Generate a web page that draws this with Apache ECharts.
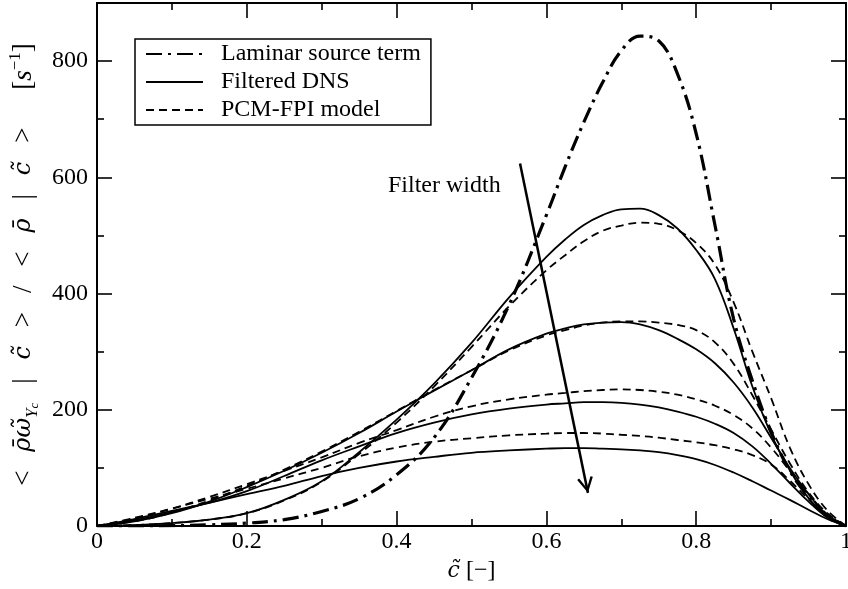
<!DOCTYPE html>
<html>
<head>
<meta charset="utf-8">
<script src="https://cdn.jsdelivr.net/npm/echarts@6/dist/echarts.min.js"></script>
<style>
  html, body { margin: 0; padding: 0; background: #fff; }
  #chart { width: 848px; height: 589px; }
</style>
</head>
<body>
<div id="chart"></div>
<script>
// progress variable sampling points
const cTilde = [0, 0.05, 0.1, 0.15, 0.2, 0.25, 0.3, 0.35, 0.4, 0.45, 0.5, 0.55, 0.6,
  0.625, 0.65, 0.675, 0.7, 0.725, 0.75, 0.775, 0.8,
  0.825, 0.85, 0.875, 0.9, 0.925, 0.95, 0.975, 1];

// laminar flamelet source term
const laminar = [0, 0, 0.5, 2, 5, 11, 25, 47, 88, 152, 255, 380, 535,
  618, 695, 763, 818, 843, 835, 778, 675,
  518, 356, 250, 162, 95, 50, 16, 0];

// filtered DNS, increasing filter width
const dns1 = [0, 1.5, 5, 11, 22, 45, 77, 127, 183, 245, 315, 393, 463,
  493, 518, 535, 545, 546, 535, 512, 475,
  425, 340, 240, 158, 96, 48, 15, 0];
const dns2 = [0, 8, 22, 42, 67, 95, 126, 160, 197, 233, 268, 304, 331,
  340, 347, 350, 351, 347, 337, 322, 304,
  280, 247, 204, 152, 100, 55, 18, 0];
const dns3 = [0, 10, 24, 40, 60, 86, 113, 137, 160, 178, 192, 202, 209,
  211, 213, 213, 212, 209, 204, 197, 188,
  176, 160, 137, 107, 74, 42, 15, 0];
const dns4 = [0, 12, 26, 40, 55, 69, 86, 100, 111, 119, 126, 130, 133,
  134, 134, 133, 132, 130, 127, 122, 115,
  105, 92, 77, 61, 45, 28, 12, 0];

// PCM-FPI model, same filter widths
const pcm1 = [0, 1.5, 5, 11, 22, 44, 76, 124, 178, 240, 308, 378, 440,
  466, 490, 508, 517, 522, 520, 509, 487,
  450, 385, 300, 220, 135, 72, 27, 0];
const pcm2 = [0, 8, 23, 44, 69, 97, 128, 162, 198, 234, 268, 302, 328,
  337, 345, 350, 352, 352, 350, 346, 337,
  316, 279, 225, 166, 108, 58, 22, 0];
const pcm3 = [0, 13, 30, 50, 72, 95, 118, 143, 165, 188, 206, 218, 226,
  229, 232, 234, 235, 234, 231, 226, 218,
  207, 191, 168, 135, 95, 55, 20, 0];
const pcm4 = [0, 14, 30, 47, 64, 82, 100, 120, 135, 145, 151, 156, 159,
  160, 160, 159, 157, 155, 152, 148, 144,
  139, 132, 122, 106, 78, 46, 18, 0];

// axis ticks
const xTicks = { min: 0, max: 1, step: 0.2 };
const yTicks = { min: 0, max: 900, step: 200 };

// "Filter width" arrow, in data units: [c, value]
const arrowFrom = [0.5648, 624];
const arrowTo = [0.6555, 57];

const FONT = '"Liberation Serif", "Times New Roman", serif';
const MATH = '"DejaVu Serif", "Liberation Serif", serif';
const pair = (ys) => cTilde.map((c, i) => [c, ys[i]]);

const solid = { color: '#000', width: 1.8, type: 'solid' };
const dashed = { color: '#000', width: 1.8, type: [8, 5] };
const dashDot = { color: '#000', width: 3.2, type: [16, 6, 3, 6] };

function curve(name, ys, lineStyle, extra) {
  return Object.assign({
    name: name,
    type: 'line',
    data: pair(ys),
    showSymbol: false,
    symbol: 'none',
    smooth: 0.4,
    color: '#000',
    lineStyle: lineStyle,
    silent: true,
    z: 3
  }, extra || {});
}

const chevron = 'path://M8,16 L16,30.5 L13.8,31.6 L8,20.6 L2.2,31.6 L0,30.5 Z M8,0 L8.01,0 L8,0.01 Z';

const axisCommon = {
  type: 'value',
  axisLine: { show: true, onZero: false, lineStyle: { color: '#000', width: 2 } },
  axisTick: { show: true, inside: true, length: 15, lineStyle: { color: '#000', width: 1.6 } },
  minorTick: { show: true, splitNumber: 2, length: 7, lineStyle: { color: '#000', width: 1.6 } },
  splitLine: { show: false },
  minorSplitLine: { show: false }
};

// y-axis title: < rho-bar omega-tilde_{Y_c} | c-tilde > / < rho-bar | c-tilde >  [s^-1]
const sp = '\u2002\u2009';
const yName = [
  '{n|<' + sp + '}{m|\u03C1\u0304\u03C9\u0303}{sub|Y}{ss|c}',
  '{n|' + sp + '|' + sp + '}{m|c\u0303}{n|' + sp + '>' + sp + '/' + sp + '<' + sp + '}',
  '{m|\u03C1\u0304}{n|' + sp + '|' + sp + '}{m|c\u0303}{n|' + sp + '>' + sp + sp + '[}',
  '{i|s}{sup|\u22121}{n|]}'
].join('');

const chart = echarts.init(document.getElementById('chart'), null, { renderer: 'canvas' });

chart.setOption({
  animation: false,
  backgroundColor: '#fff',
  grid: { left: 97, right: 2, top: 3, bottom: 63, containLabel: false, outerBoundsMode: 'none' },
  legend: {
    left: 135,
    top: 39,
    orient: 'vertical',
    data: ['Laminar source term', 'Filtered DNS', 'PCM-FPI model'],
    itemWidth: 57,
    itemHeight: 14,
    itemGap: 4,
    padding: [3, 10, 3, 10],
    borderColor: '#000',
    borderWidth: 1.5,
    borderRadius: 0,
    backgroundColor: '#fff',
    selectedMode: false,
    itemStyle: { opacity: 0, borderWidth: 0 },
    textStyle: { fontFamily: FONT, fontSize: 24, color: '#000', lineHeight: 24, padding: [0, 0, 0, 13] }
  },
  xAxis: [
    Object.assign({}, axisCommon, {
      position: 'bottom',
      min: xTicks.min, max: xTicks.max, interval: xTicks.step,
      axisLabel: {
        show: true, margin: 4, color: '#000', fontFamily: FONT, fontSize: 24,
        hideOverlap: false,
        formatter: (v) => (v === 0 || v === 1) ? String(v) : v.toFixed(1)
      },
      name: '{m|c\u0303} [\u2212]',
      nameLocation: 'middle',
      nameGap: 27,
      nameTextStyle: {
        fontFamily: FONT, fontSize: 24, color: '#000',
        rich: { m: { fontFamily: MATH, fontSize: 22, fontStyle: 'italic', color: '#000' } }
      }
    }),
    Object.assign({}, axisCommon, {
      position: 'top',
      min: xTicks.min, max: xTicks.max, interval: xTicks.step,
      axisLabel: { show: false }
    })
  ],
  yAxis: [
    Object.assign({}, axisCommon, {
      position: 'left',
      min: yTicks.min, max: yTicks.max, interval: yTicks.step,
      axisLabel: {
        show: true, margin: 9, color: '#000', fontFamily: FONT, fontSize: 24,
        formatter: (v) => (v % yTicks.step === 0 ? String(v) : '')
      },
      name: yName,
      nameLocation: 'middle',
      nameRotate: 90,
      nameGap: 50,
      nameTextStyle: {
        fontFamily: FONT, fontSize: 27, color: '#000',
        rich: {
          n: { fontFamily: FONT, fontSize: 27, color: '#000', lineHeight: 34 },
          i: { fontFamily: FONT, fontSize: 27, fontStyle: 'italic', color: '#000', lineHeight: 34 },
          m: { fontFamily: MATH, fontSize: 24, fontStyle: 'italic', color: '#000', lineHeight: 34 },
          sub: { fontFamily: FONT, fontSize: 17, fontStyle: 'italic', color: '#000', lineHeight: 22, verticalAlign: 'bottom' },
          ss: { fontFamily: FONT, fontSize: 13, fontStyle: 'italic', color: '#000', lineHeight: 13, verticalAlign: 'bottom' },
          sup: { fontFamily: FONT, fontSize: 17, color: '#000', lineHeight: 22, verticalAlign: 'top' }
        }
      }
    }),
    Object.assign({}, axisCommon, {
      position: 'right',
      min: yTicks.min, max: yTicks.max, interval: yTicks.step,
      axisLabel: { show: false }
    })
  ],
  graphic: [
    {
      type: 'text',
      left: 388,
      top: 174,
      style: { text: 'Filter width', font: '24px ' + FONT, fill: '#000' },
      silent: true
    }
  ],
  series: [
    curve('Laminar source term', laminar, dashDot, {
      z: 4,
      markLine: {
        silent: true,
        animation: false,
        symbol: ['none', chevron],
        symbolSize: [16, 31.6],
        label: { show: false },
        lineStyle: { color: '#000', width: 2.5, type: 'solid' },
        emphasis: { disabled: true },
        data: [[{ coord: arrowFrom }, { coord: arrowTo }]]
      }
    }),
    curve('Filtered DNS', dns1, solid),
    curve('Filtered DNS', dns2, solid),
    curve('Filtered DNS', dns3, solid),
    curve('Filtered DNS', dns4, solid),
    curve('PCM-FPI model', pcm1, dashed),
    curve('PCM-FPI model', pcm2, dashed),
    curve('PCM-FPI model', pcm3, dashed),
    curve('PCM-FPI model', pcm4, dashed)
  ]
});
</script>
</body>
</html>
